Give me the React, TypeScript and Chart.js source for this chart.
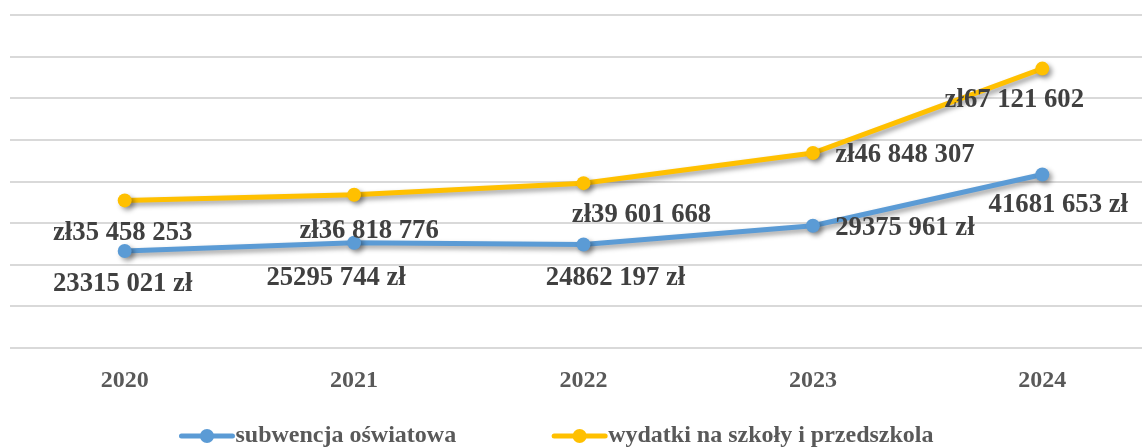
import React, { useEffect, useRef } from "react";
import { Chart, registerables } from "chart.js";

Chart.register(...registerables);

const years = ["2020", "2021", "2022", "2023", "2024"];
const subwencja = [23315021, 25295744, 24862197, 29375961, 41681653];
const wydatki = [35458253, 36818776, 39601668, 46848307, 67121602];
const subwencjaLabels = ["23315 021 zł", "25295 744 zł", "24862 197 zł", "29375 961 zł", "41681 653 zł"];
const wydatkiLabels = ["zł35 458 253", "zł36 818 776", "zł39 601 668", "zł46 848 307", "zł67 121 602"];
const seriesNames = ["subwencja oświatowa", "wydatki na szkoły i przedszkola"];
const yMax = 80000000;
const yStep = 10000000;

// label placement offsets (px) relative to each point, as in the reference
const subwencjaOffsets = [[-2, 33], [-18, 35], [32, 34], [92, 2], [16, 31]];
const wydatkiOffsets = [[-2, 33], [15, 36], [58, 32], [92, 2], [-28, 31]];

const BLUE = "#5B9BD5";
const ORANGE = "#FFC000";
const FONT = "'Liberation Serif', 'Times New Roman', serif";

export default function App() {
  const ref = useRef<HTMLCanvasElement | null>(null);

  useEffect(() => {
    const canvas = ref.current;
    if (!canvas) return;

    const shadowPlugin = {
      id: "shadow",
      beforeDatasetDraw(chart: any) {
        const ctx = chart.ctx;
        ctx.save();
        ctx.shadowColor = "rgba(0,0,0,0.38)";
        ctx.shadowBlur = 5;
        ctx.shadowOffsetX = 3;
        ctx.shadowOffsetY = 3;
      },
      afterDatasetDraw(chart: any) {
        chart.ctx.restore();
      },
    };

    const labelPlugin = {
      id: "valueLabels",
      afterDatasetsDraw(chart: any) {
        const ctx = chart.ctx;
        const sets = [
          { labels: subwencjaLabels, offs: subwencjaOffsets },
          { labels: wydatkiLabels, offs: wydatkiOffsets },
        ];
        ctx.save();
        ctx.font = `bold 26.7px ${FONT}`;
        ctx.fillStyle = "#404040";
        ctx.textAlign = "center";
        ctx.textBaseline = "middle";
        sets.forEach((s, di) => {
          const meta = chart.getDatasetMeta(di);
          meta.data.forEach((pt: any, i: number) => {
            ctx.fillText(s.labels[i], pt.x + s.offs[i][0], pt.y + s.offs[i][1]);
          });
        });
        ctx.restore();
      },
    };

    const legendPlugin = {
      id: "customLegend",
      afterDraw(chart: any) {
        const ctx = chart.ctx;
        ctx.save();
        ctx.font = `bold 24px ${FONT}`;
        const markerW = 51;
        const gapText = 3;
        const gapItems = 98;
        const colors = [BLUE, ORANGE];
        const widths = seriesNames.map((n) => ctx.measureText(n).width);
        const total = widths.reduce((a, w) => a + markerW + gapText + w, 0) + gapItems;
        let x = 557.5 - total / 2;
        const y = 436;
        seriesNames.forEach((n, i) => {
          ctx.strokeStyle = colors[i];
          ctx.lineWidth = 5;
          ctx.lineCap = "round";
          ctx.beginPath();
          ctx.moveTo(x, y);
          ctx.lineTo(x + markerW, y);
          ctx.stroke();
          ctx.fillStyle = colors[i];
          ctx.beginPath();
          ctx.arc(x + markerW / 2, y, 7, 0, Math.PI * 2);
          ctx.fill();
          ctx.fillStyle = "#595959";
          ctx.textAlign = "left";
          ctx.textBaseline = "middle";
          ctx.fillText(n, x + markerW + gapText, y);
          x += markerW + gapText + widths[i] + gapItems;
        });
        ctx.restore();
      },
    };

    const chart = new Chart(canvas, {
      type: "line",
      data: {
        labels: years,
        datasets: [
          {
            label: seriesNames[0],
            data: subwencja,
            borderColor: BLUE,
            backgroundColor: BLUE,
            borderWidth: 5,
            pointRadius: 7,
            pointHoverRadius: 7,
            pointBorderWidth: 0,
            tension: 0,
          },
          {
            label: seriesNames[1],
            data: wydatki,
            borderColor: ORANGE,
            backgroundColor: ORANGE,
            borderWidth: 5,
            pointRadius: 7,
            pointHoverRadius: 7,
            pointBorderWidth: 0,
            tension: 0,
          },
        ],
      },
      options: {
        animation: false,
        responsive: false,
        maintainAspectRatio: false,
        layout: { padding: { left: 10, right: 13, top: 15, bottom: 0 } },
        plugins: {
          legend: { display: false },
          tooltip: { enabled: false },
        },
        scales: {
          x: {
            offset: true,
            grid: { display: false, drawTicks: false },
            border: { display: false },
            ticks: {
              padding: 18,
              color: "#595959",
              font: { family: FONT, size: 24, weight: "bold" },
            },
            afterFit: (s: any) => {
              s.height = 100;
            },
          },
          y: {
            min: 0,
            max: yMax,
            grid: { color: "#D9D9D9", lineWidth: 2, drawTicks: false },
            border: { display: false },
            ticks: { display: false, stepSize: yStep },
            afterFit: (s: any) => {
              s.width = 0;
            },
          },
        },
      },
      plugins: [shadowPlugin, labelPlugin, legendPlugin],
    });

    return () => chart.destroy();
  }, []);

  return (
    <div
      style={{
        position: "fixed",
        left: 0,
        top: 0,
        width: 1142,
        height: 448,
        overflow: "hidden",
        background: "#fff",
      }}
    >
      <canvas ref={ref} width={1170} height={448} style={{ display: "block", width: 1170, height: 448 }} />
    </div>
  );
}
